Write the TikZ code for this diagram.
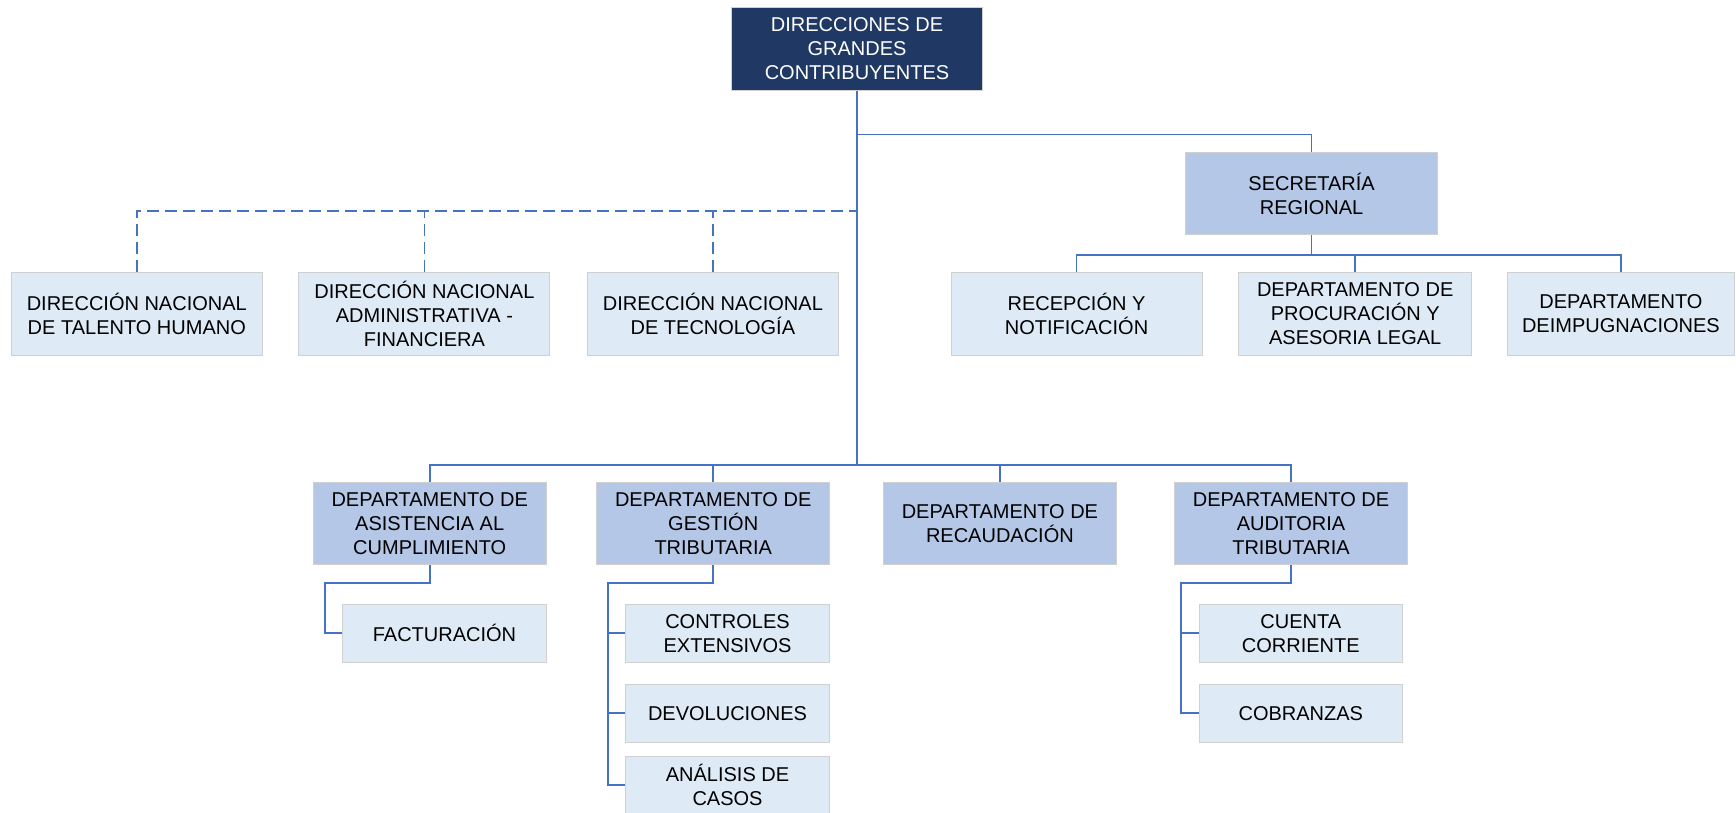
\documentclass[tikz,border=0pt]{standalone}
\usepackage{fontspec}
\setmainfont{Liberation Sans}

\definecolor{navy}{HTML}{203864}
\definecolor{midblue}{HTML}{B4C7E7}
\definecolor{paleblue}{HTML}{DEEBF7}
\definecolor{linkblue}{HTML}{4472C4}
\definecolor{rim}{HTML}{D0D0D0}

\tikzset{
  enlace/.style={draw=linkblue,line width=1.7pt},
  apoyo/.style={enlace,dash pattern=on 12pt off 6pt},
}

\begin{document}
\begin{tikzpicture}[x=1pt,y=-1pt]
      \useasboundingbox (0,0) rectangle (1736,812);
      \begin{scope}[every node/.style={draw=rim,line width=1pt,inner sep=0pt,align=center,
          font=\fontsize{20}{24}\selectfont}]
        \node[fill=navy,text=white,minimum width=251pt,minimum height=83pt] (dgc) at (857,48.7) {DIRECCIONES DE\\GRANDES\\CONTRIBUYENTES};
        \node[fill=midblue,minimum width=252pt,minimum height=82pt] (sec) at (1311.6,193.5) {SECRETARÍA\\REGIONAL};
        % direcciones nacionales y unidades de la secretaria
        \node[fill=paleblue,minimum width=251pt,minimum height=82.6pt] (talento) at (136.8,314) {DIRECCIÓN NACIONAL\\DE TALENTO HUMANO};
        \node[fill=paleblue,minimum width=251pt,minimum height=82.6pt] (admin) at (424.4,314) {DIRECCIÓN NACIONAL\\ADMINISTRATIVA -\\FINANCIERA};
        \node[fill=paleblue,minimum width=251pt,minimum height=82.6pt] (tecno) at (712.9,314) {DIRECCIÓN NACIONAL\\DE TECNOLOGÍA};
        \node[fill=paleblue,minimum width=251pt,minimum height=82.6pt] (recep) at (1076.5,314) {RECEPCIÓN Y\\NOTIFICACIÓN};
        \node[fill=paleblue,minimum width=232.5pt,minimum height=82.6pt] (proc) at (1355.2,314) {DEPARTAMENTO DE\\PROCURACIÓN Y\\ASESORIA LEGAL};
        \node[fill=paleblue,minimum width=227.3pt,minimum height=82.6pt] (impug) at (1620.9,314) {DEPARTAMENTO\\DEIMPUGNACIONES};
        % departamentos
        \node[fill=midblue,minimum width=232.6pt,minimum height=82.3pt] (asis) at (429.7,523.8) {DEPARTAMENTO DE\\ASISTENCIA AL\\CUMPLIMIENTO};
        \node[fill=midblue,minimum width=232.6pt,minimum height=82.3pt] (gest) at (713.2,523.8) {DEPARTAMENTO DE\\GESTIÓN\\TRIBUTARIA};
        \node[fill=midblue,minimum width=232.6pt,minimum height=82.3pt] (recaud) at (999.9,523.8) {DEPARTAMENTO DE\\RECAUDACIÓN};
        \node[fill=midblue,minimum width=232.6pt,minimum height=82.3pt] (audit) at (1291,523.8) {DEPARTAMENTO DE\\AUDITORIA\\TRIBUTARIA};
        % unidades
        \node[fill=paleblue,minimum width=203.5pt,minimum height=58pt] (factura) at (444.5,633.3) {FACTURACIÓN};
        \node[fill=paleblue,minimum width=203.5pt,minimum height=58pt] (control) at (727.5,633.3) {CONTROLES\\EXTENSIVOS};
        \node[fill=paleblue,minimum width=203.5pt,minimum height=58pt] (devol) at (727.5,713.2) {DEVOLUCIONES};
        \node[fill=paleblue,minimum width=203.5pt,minimum height=58pt] (analisis) at (727.5,785) {ANÁLISIS DE\\CASOS};
        \node[fill=paleblue,minimum width=203.5pt,minimum height=58pt] (cuenta) at (1300.8,633.3) {CUENTA\\CORRIENTE};
        \node[fill=paleblue,minimum width=203.5pt,minimum height=58pt] (cobranza) at (1300.8,713.2) {COBRANZAS};
      \end{scope}
      \begin{scope}
        \coordinate (busA) at (857,134.5);
        \coordinate (busD) at (857,210.7);
        \coordinate (busB) at (857,465);
        \coordinate (busS) at (1311.6,254.7);
        \coordinate (rAsis) at (325,582.7);
        \coordinate (rGest) at (608,582.7);
        \coordinate (rAudit) at (1181,582.7);
        \draw[enlace] (dgc.south) -- (busB);
        \draw[enlace] (busA) -| (sec.north);
        \draw[enlace] (sec.south) -- (busS);
        \draw[enlace] (recep.north) |- (busS) -| (impug.north);
        \draw[enlace] (proc.north) -- (proc.north |- busS);
        \draw[apoyo] (talento.north) |- (busD);
        \draw[apoyo] (admin.north) -- (admin.north |- busD);
        \draw[apoyo] (tecno.north) -- (tecno.north |- busD);
        \draw[enlace] (asis.north) |- (busB) -| (audit.north);
        \draw[enlace] (gest.north) -- (gest.north |- busB);
        \draw[enlace] (recaud.north) -- (recaud.north |- busB);
        \draw[enlace] (asis.south) |- (rAsis) |- (factura.west);
        \draw[enlace] (gest.south) |- (rGest) |- (analisis.west);
        \draw[enlace] (rGest) |- (control.west);
        \draw[enlace] (rGest) |- (devol.west);
        \draw[enlace] (audit.south) |- (rAudit) |- (cobranza.west);
        \draw[enlace] (rAudit) |- (cuenta.west);
      \end{scope}
    \end{tikzpicture}
\end{document}
